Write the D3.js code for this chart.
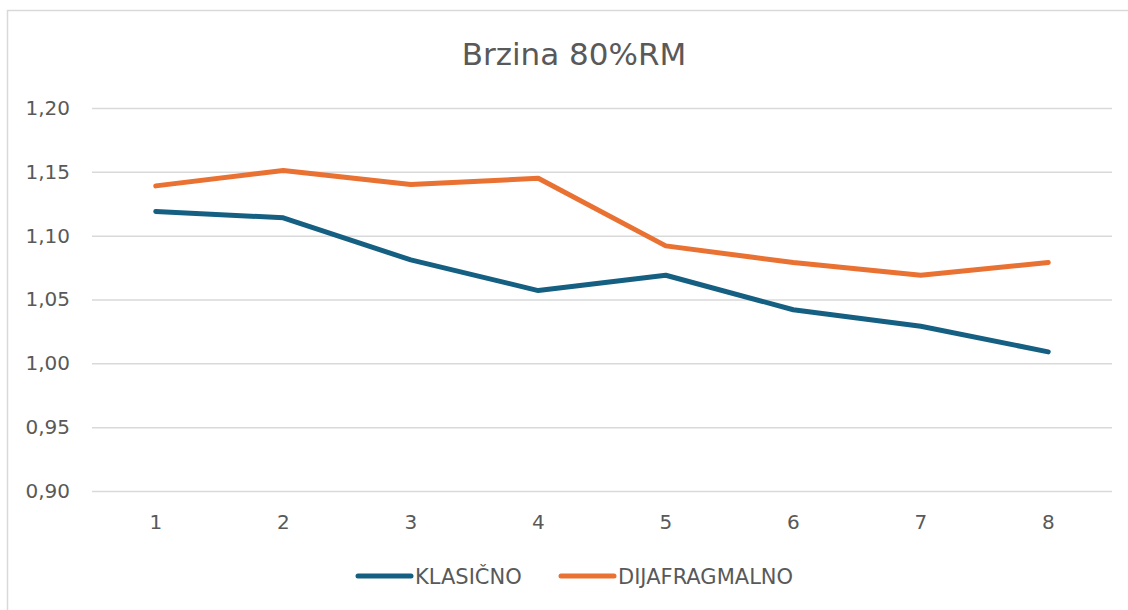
<!DOCTYPE html>
<html>
<head>
<meta charset="utf-8">
<script src="https://cdn.jsdelivr.net/npm/d3@7"></script>
<style>
  body { margin: 0; background: #fff; }
  text { font-family: "DejaVu Sans", "Open Sans", sans-serif; fill: #595959; }
</style>
</head>
<body>
<div id="chart"></div>
<script>
// data
var categories = ["1", "2", "3", "4", "5", "6", "7", "8"];
var klasicno = [1.119, 1.114, 1.081, 1.057, 1.069, 1.042, 1.029, 1.009];
var dijafragmalno = [1.139, 1.151, 1.140, 1.145, 1.092, 1.079, 1.069, 1.079];
var yTicks = [0.90, 0.95, 1.00, 1.05, 1.10, 1.15, 1.20];
var seriesNames = ["KLASIČNO", "DIJAFRAGMALNO"];
var colors = ["#156082", "#E97132"];

var W = 1128, H = 610;
var margin = {top: 108, right: 16, bottom: 119, left: 92};
var width = W - margin.left - margin.right,
    height = H - margin.top - margin.bottom;

var svg = d3.select("#chart")
  .append("svg")
    .attr("width", W)
    .attr("height", H);

// chart area border
svg.append("rect")
  .attr("x", 7.5).attr("y", 10.5)
  .attr("width", W).attr("height", H)
  .attr("fill", "none")
  .attr("stroke", "#d9d9d9")
  .attr("stroke-width", 1.5);

// title
svg.append("text")
  .attr("x", 574).attr("y", 65)
  .attr("text-anchor", "middle")
  .style("font-size", "31px")
  .text("Brzina 80%RM");

var g = svg.append("g")
  .attr("transform", "translate(" + margin.left + "," + margin.top + ")");

var x = d3.scaleBand()
  .domain(categories)
  .range([0, width]);

var y = d3.scaleLinear()
  .domain([0.90, 1.20])
  .range([height, 0]);

var fmt = function(d) { return d3.format(".2f")(d).replace(".", ","); };

// gridlines + y labels
var yAxis = g.append("g")
  .call(d3.axisLeft(y).tickValues(yTicks).tickSize(-width).tickFormat(fmt).tickPadding(22));
yAxis.select(".domain").remove();
yAxis.selectAll(".tick line").attr("stroke", "#d9d9d9").attr("stroke-width", 1.5);
yAxis.selectAll(".tick text").style("font-size", "20px").attr("fill", "#595959");

// x labels
var xAxis = g.append("g")
  .attr("transform", "translate(0," + height + ")")
  .call(d3.axisBottom(x).tickSize(0).tickPadding(24));
xAxis.select(".domain").remove();
xAxis.selectAll(".tick text").style("font-size", "20px").attr("fill", "#595959");

var line = d3.line()
  .x(function(d, i) { return x(categories[i]) + x.bandwidth() / 2; })
  .y(function(d) { return y(d); });

[klasicno, dijafragmalno].forEach(function(s, k) {
  g.append("path")
    .datum(s)
    .attr("fill", "none")
    .attr("stroke", colors[k])
    .attr("stroke-width", 5)
    .attr("stroke-linecap", "round")
    .attr("stroke-linejoin", "round")
    .attr("d", line);
});

// legend
var legendX = [358, 561];
seriesNames.forEach(function(name, k) {
  var lg = svg.append("g").attr("transform", "translate(" + legendX[k] + ",576)");
  lg.append("line")
    .attr("x1", 0).attr("x2", 53)
    .attr("stroke", colors[k])
    .attr("stroke-width", 5)
    .attr("stroke-linecap", "round");
  lg.append("text")
    .attr("x", 57).attr("y", 8)
    .style("font-size", "21px")
    .text(name);
});
</script>
</body>
</html>
